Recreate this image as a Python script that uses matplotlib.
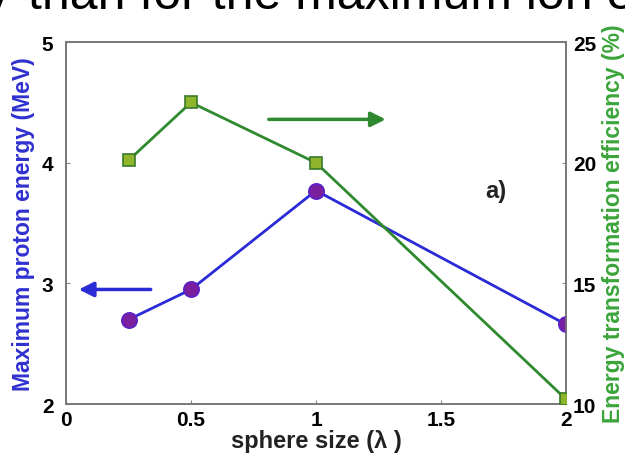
import matplotlib
matplotlib.use('Agg')
import matplotlib.pyplot as plt

# ===== data =====
sphere_size = [0.25, 0.5, 1.0, 2.0]
proton_energy = [2.70, 2.95, 3.77, 2.66]      # MeV, left axis
efficiency = [20.1, 22.5, 20.0, 10.2]         # %, right axis

x_ticks = [0, 0.5, 1, 1.5, 2]
x_ticklabels = ['0', '0.5', '1', '1.5', '2']
left_ticks = [2, 3, 4, 5]
right_ticks = [10, 15, 20, 25]

plt.rcParams['font.family'] = ['Liberation Sans', 'DejaVu Sans']
plt.rcParams['font.weight'] = 'bold'

fig = plt.figure(figsize=(6.25, 4.64), dpi=100)
ax = fig.add_axes([0.1056, 0.127, 0.80, 0.780])
ax2 = ax.twinx()

blue = '#2a2ad6'
green = '#2f8a2f'

ax.plot(sphere_size, proton_energy, color=blue, lw=2, marker='o', ms=11,
        mfc='#7a1f9e', mec='#5a1fc8', mew=1.2, zorder=3)
ax2.plot(sphere_size, efficiency, color=green, lw=2, marker='s', ms=9,
         mfc='#8fb52c', mec='#3a7a2a', mew=1.2, zorder=3)

ax.set_xlim(0, 2)
ax.set_ylim(2, 5)
ax2.set_ylim(10, 25)

ax.set_xticks(x_ticks)
ax.set_xticklabels(x_ticklabels)
ax.set_yticks(left_ticks)
ax2.set_yticks(right_ticks)

for a in (ax, ax2):
    a.tick_params(direction='in', length=3, width=0.8, labelsize=15, color='#888888', pad=3)
    for s in a.spines.values():
        s.set_color('#777777')
        s.set_linewidth(1.2)
ax.tick_params(axis='x', pad=4)
ax.tick_params(axis='y', pad=9)
ax2.tick_params(axis='y', pad=5)

ax.set_xlabel('sphere size (λ )', fontsize=17, fontweight='bold', color='#222222', labelpad=0)
ax.set_ylabel('Maximum proton energy (MeV)', fontsize=16.5, fontweight='bold', color='#3030d0', labelpad=5)
ax2.set_ylabel('Energy transformation efficiency (%)', fontsize=16.5, fontweight='bold',
               color='#3aa53a', labelpad=4)

# arrows pointing to the matching axis
ax.annotate('', xy=(0.04, 2.95), xytext=(0.35, 2.95),
            arrowprops=dict(arrowstyle='-|>', color=blue, lw=2.5, mutation_scale=22))
ax.annotate('', xy=(1.29, 4.36), xytext=(0.80, 4.36),
            arrowprops=dict(arrowstyle='-|>', color=green, lw=2.5, mutation_scale=22))

ax.text(1.72, 3.77, 'a)', fontsize=17, fontweight='bold', ha='center', va='center', color='#222222')

# cut-off text from the page above the figure
fig.text(10 / 625, 1 - 9 / 464, 'y', fontsize=36, fontweight='normal',
         color='black', ha='right', va='baseline')
fig.text(28 / 625, 1 - 9 / 464, 'than for the maximum ion e', fontsize=36, fontweight='normal',
         color='black', ha='left', va='baseline')

fig.savefig('out.png', dpi=100)
